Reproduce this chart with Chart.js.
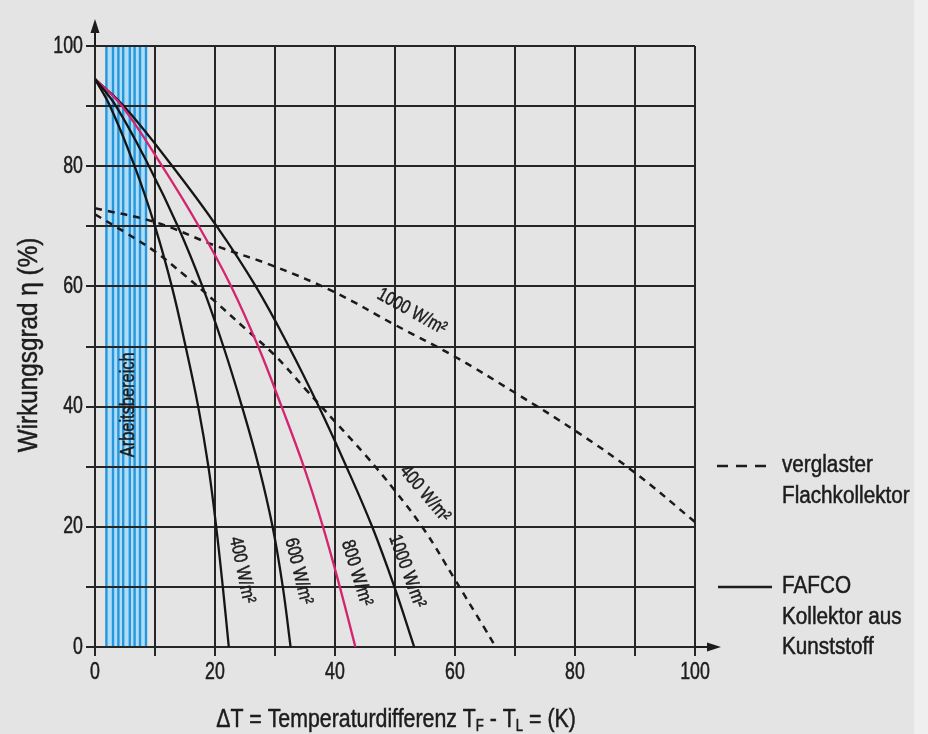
<!DOCTYPE html>
<html><head><meta charset="utf-8">
<script src="https://cdn.jsdelivr.net/npm/chart.js@4"></script>
<style>html,body{margin:0;padding:0;background:#e5e5e5;overflow:hidden}canvas{display:block}</style>
</head><body><canvas id="c" width="928" height="734"></canvas>
<script>
const FONT = "'Liberation Sans','Arial',sans-serif";
const NARROW = 0.82; // horizontal condensing to mimic the condensed typeface

// ---- data ----
const etaLevels   = [94.5, 90, 80, 70, 60, 50, 40, 30, 20, 10, 0];
const fafco400dT  = [0, 2.5, 6.6, 10.0, 12.8, 15.1, 17.2, 18.9, 20.2, 21.3, 22.3];
const fafco600dT  = [0, 3.5, 9.0, 13.8, 17.9, 21.4, 24.5, 27.3, 29.6, 31.3, 32.6];
const fafco800dT  = [0, 4.5, 11.2, 17.3, 22.7, 27.2, 31.1, 34.8, 38.0, 40.8, 43.4];
const fafco1000dT = [0, 4.8, 12.9, 20.3, 26.8, 32.3, 37.3, 41.9, 46.2, 49.9, 53.2];
const glazed1000dT  = [0, 10, 20, 30, 40, 50, 60, 70, 80, 90, 100];
const glazed1000Eta = [73, 70.7, 66.8, 63.3, 59, 53.6, 48.3, 42.3, 36, 29, 20.8];
const glazed400dT   = [0, 5, 10, 15, 20, 25, 30, 35, 40, 45, 50, 55, 60, 65, 66.5];
const glazed400Eta  = [72, 69, 65.8, 61.8, 57.5, 53, 48.5, 43, 37.5, 32, 26, 19.3, 11.2, 3, 0.5];
const workRange = [1.7, 8.6];
const workLines = [1.9, 3.0, 3.9, 4.7, 5.8, 6.6, 7.5, 8.5];
const tickLabels = [0, 20, 40, 60, 80, 100];
const legendGlazed = ['verglaster', 'Flachkollektor'];
const legendFafco  = ['FAFCO', 'Kollektor aus', 'Kunststoff'];

// ---- annotation placement (data coordinates) ----
const curveLabels = [
  {text:'400 W/m²',  x:24.5, y:12.8, angle:78},
  {text:'600 W/m²',  x:33.9, y:12.6, angle:76},
  {text:'800 W/m²',  x:43.6, y:12.3, angle:73},
  {text:'1000 W/m²', x:52.0, y:12.6, angle:70},
  {text:'1000 W/m²', x:52.8, y:55.8, angle:29},
  {text:'400 W/m²',  x:55.0, y:25.5, angle:50}
];

const pts = (xs, ys) => xs.map((x, i) => ({x, y: ys[i]}));
const solid = (xs, color) => ({data: pts(xs, etaLevels), borderColor: color, borderWidth: 2.3,
  pointRadius: 0, fill: false, tension: 0.4});
const dashed = (xs, ys) => ({data: pts(xs, ys), borderColor: '#1a1a1a', borderWidth: 2.5,
  borderDash: [7, 6], pointRadius: 0, fill: false, tension: 0.4});

function drawText(ctx, text, x, y, size, angle, align, sx) {
  ctx.save();
  ctx.translate(x, y);
  ctx.rotate(angle * Math.PI / 180);
  ctx.scale(sx || NARROW, 1);
  ctx.font = size + 'px ' + FONT;
  ctx.fillStyle = '#1c1c1c';
  ctx.strokeStyle = '#1c1c1c';
  ctx.lineWidth = 0.5;
  ctx.textAlign = align || 'center';
  ctx.textBaseline = 'middle';
  ctx.fillText(text, 0, 0);
  ctx.strokeText(text, 0, 0);
  ctx.restore();
}

const decor = {
  id: 'decor',
  beforeDraw(chart) {
    const {ctx, chartArea: a, scales: {x, y}} = chart;
    ctx.save();
    ctx.fillStyle = '#e4e4e4';
    ctx.fillRect(0, 0, chart.width, chart.height);
    ctx.fillStyle = '#efefef';
    ctx.fillRect(914, 0, chart.width - 914, chart.height);
    // working range band
    const x0 = x.getPixelForValue(workRange[0]), x1 = x.getPixelForValue(workRange[1]);
    ctx.fillStyle = '#aedcf4';
    ctx.fillRect(x0, a.top, x1 - x0, a.bottom - a.top);
    ctx.strokeStyle = '#2697de';
    ctx.lineWidth = 2.4;
    workLines.forEach(v => {
      const p = x.getPixelForValue(v);
      ctx.beginPath(); ctx.moveTo(p, a.top); ctx.lineTo(p, a.bottom); ctx.stroke();
    });
    ctx.restore();
  },
  afterDatasetsDraw(chart) {
    const {ctx, chartArea: a, scales: {x, y}} = chart;
    ctx.save();
    // axis arrows
    ctx.strokeStyle = '#1c1c1c'; ctx.fillStyle = '#1c1c1c'; ctx.lineWidth = 2;
    const ox = x.getPixelForValue(0), oy = y.getPixelForValue(0);
    ctx.beginPath(); ctx.moveTo(ox, a.top); ctx.lineTo(ox, 30); ctx.stroke();
    ctx.beginPath(); ctx.moveTo(ox, 19); ctx.lineTo(ox - 4.5, 33); ctx.lineTo(ox + 4.5, 33); ctx.closePath(); ctx.fill();
    ctx.beginPath(); ctx.moveTo(a.right, oy); ctx.lineTo(710, oy); ctx.stroke();
    ctx.beginPath(); ctx.moveTo(721, oy); ctx.lineTo(707, oy - 4.5); ctx.lineTo(707, oy + 4.5); ctx.closePath(); ctx.fill();
    // tick labels from the library's ticks
    x.ticks.forEach(t => { if (t.label !== '') drawText(ctx, t.label, x.getPixelForValue(t.value), 672, 24, 0, 'center', 0.74); });
    y.ticks.forEach(t => { if (t.label !== '') drawText(ctx, t.label, 83, y.getPixelForValue(t.value), 24, 0, 'right', 0.74); });
    // working range label
    drawText(ctx, 'Arbeitsbereich', x.getPixelForValue(5.5), y.getPixelForValue(40.3), 20, -90);
    // curve labels
    curveLabels.forEach(l => drawText(ctx, l.text, x.getPixelForValue(l.x), y.getPixelForValue(l.y), 19, l.angle));
    // axis titles
    drawText(ctx, 'Wirkungsgrad η (%)', 30, 345, 27, -90, 'center', 0.9);
    const big = '26px ' + FONT, sub = '16px ' + FONT;
    const parts = [['ΔT = Temperaturdifferenz T', 0], ['F', 1], [' - T', 0], ['L', 1], [' = (K)', 0]];
    let total = 0;
    parts.forEach(([t, s]) => { ctx.font = s ? sub : big; total += ctx.measureText(t).width; });
    ctx.save();
    ctx.translate(396, 0);
    ctx.scale(NARROW, 1);
    let cx = -total / 2;
    ctx.fillStyle = '#1c1c1c'; ctx.strokeStyle = '#1c1c1c'; ctx.lineWidth = 0.5;
    ctx.textBaseline = 'alphabetic'; ctx.textAlign = 'left';
    parts.forEach(([t, s]) => {
      ctx.font = s ? sub : big;
      ctx.fillText(t, cx, s ? 731 : 727);
      ctx.strokeText(t, cx, s ? 731 : 727);
      cx += ctx.measureText(t).width;
    });
    ctx.restore();
    // legend
    ctx.lineWidth = 2.6; ctx.strokeStyle = '#1c1c1c';
    ctx.setLineDash([11, 8]);
    ctx.beginPath(); ctx.moveTo(717, 466); ctx.lineTo(771, 466); ctx.stroke();
    ctx.setLineDash([]);
    ctx.beginPath(); ctx.moveTo(718, 587); ctx.lineTo(772, 587); ctx.stroke();
    legendGlazed.forEach((t, i) => drawText(ctx, t, 782, 466 + i * 31, 23, 0, 'left', 0.9));
    legendFafco.forEach((t, i) => drawText(ctx, t, 782, 587 + i * 30.5, 23, 0, 'left', 0.9));
    ctx.restore();
  }
};

const tickOpts = {stepSize: 10, autoSkip: false, maxRotation: 0, color: 'rgba(0,0,0,0)',
  font: {family: FONT, size: 20}, callback: v => tickLabels.includes(v) ? String(v) : ''};
const gridOpts = {color: '#262626', lineWidth: 2, tickLength: 9, drawTicks: true};

new Chart(document.getElementById('c'), {
  type: 'line',
  data: {datasets: [
    solid(fafco400dT, '#151515'),
    solid(fafco600dT, '#151515'),
    solid(fafco800dT, '#d4246f'),
    solid(fafco1000dT, '#151515'),
    dashed(glazed1000dT, glazed1000Eta),
    dashed(glazed400dT, glazed400Eta)
  ]},
  options: {
    responsive: false, animation: false, devicePixelRatio: 1,
    layout: {padding: {top: 46, right: 233, left: 0, bottom: 0}},
    plugins: {legend: {display: false}, tooltip: {enabled: false}},
    scales: {
      x: {type: 'linear', min: 0, max: 100, ticks: {...tickOpts, padding: 1}, grid: gridOpts,
          border: {display: false}, afterFit: s => { s.height = 87; }},
      y: {type: 'linear', min: 0, max: 100, ticks: {...tickOpts, padding: 3}, grid: gridOpts,
          border: {display: false}, afterFit: s => { s.width = 95; }}
    }
  },
  plugins: [decor]
});
</script>
</body></html>
